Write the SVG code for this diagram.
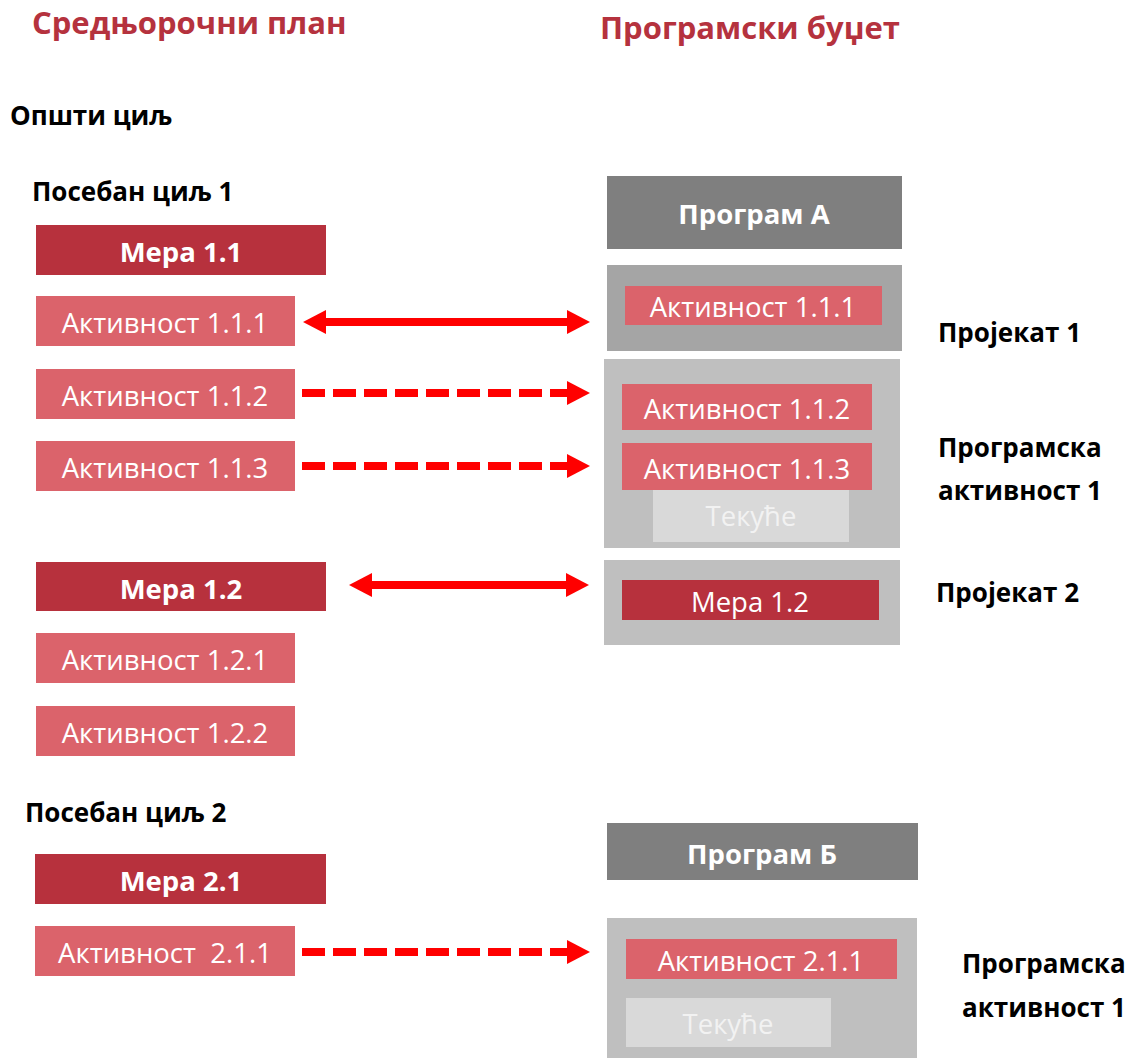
<svg xmlns="http://www.w3.org/2000/svg" width="1135" height="1058" viewBox="0 0 1135 1058">
<style>
  text { font-family: "Open Sans", "Noto Sans", "Liberation Sans", sans-serif; }
  .title { font-size: 31px; font-weight: bold; fill: #b5323e; }
  .lbl { font-size: 26px; font-weight: bold; fill: #000; }
  .mera { fill: #b7313d; }
  .akt { fill: #db636b; }
  .prog { fill: #7f7f7f; }
  .grpA { fill: #a5a5a5; }
  .grp { fill: #bfbfbf; }
  .tek { fill: #d9d9d9; }
  .tw { font-size: 27.5px; fill: #fff; text-anchor: middle; }
  .tb { font-size: 27.5px; font-weight: bold; fill: #fff; text-anchor: middle; }
  .tt { font-size: 27.5px; fill: #f2f2f2; text-anchor: middle; }
  .conn { stroke: #ff0000; stroke-width: 8; fill: none; }
  .dash { stroke-dasharray: 23 8; }
</style>
<defs>
  <marker id="ah" viewBox="0 0 23 24" refX="0" refY="12" markerWidth="23" markerHeight="24" markerUnits="userSpaceOnUse" orient="auto-start-reverse">
    <path d="M0,0 L23,12 L0,24 z" fill="#ff0000"/>
  </marker>
</defs>
<rect width="1135" height="1058" fill="#fff"/>

<text class="title" x="32" y="34">Средњорочни план</text>
<text class="title" x="600" y="39">Програмски буџет</text>

<text class="lbl" x="10" y="125">Општи циљ</text>
<text class="lbl" x="32" y="201">Посебан циљ 1</text>
<text class="lbl" x="25" y="822">Посебан циљ 2</text>

<g id="mera11"><rect class="mera" x="36" y="225" width="290" height="50"/><text class="tb" x="181" y="262">Мера 1.1</text></g>
<g id="akt111"><rect class="akt" x="36" y="296" width="259" height="50"/><text class="tw" x="165" y="333">Активност 1.1.1</text></g>
<g id="akt112"><rect class="akt" x="36" y="369" width="259" height="50"/><text class="tw" x="165" y="406">Активност 1.1.2</text></g>
<g id="akt113"><rect class="akt" x="36" y="441" width="259" height="50"/><text class="tw" x="165" y="478">Активност 1.1.3</text></g>
<g id="mera12"><rect class="mera" x="36" y="562" width="290" height="49"/><text class="tb" x="181" y="599">Мера 1.2</text></g>
<g id="akt121"><rect class="akt" x="36" y="633" width="259" height="50"/><text class="tw" x="165" y="670">Активност 1.2.1</text></g>
<g id="akt122"><rect class="akt" x="36" y="706" width="259" height="50"/><text class="tw" x="165" y="743">Активност 1.2.2</text></g>
<g id="mera21"><rect class="mera" x="35" y="854" width="291" height="50"/><text class="tb" x="181" y="891">Мера 2.1</text></g>
<g id="akt211"><rect class="akt" x="35" y="926" width="260" height="50"/><text class="tw" x="165" y="963" xml:space="preserve">Активност  2.1.1</text></g>

<g id="programA"><rect class="prog" x="607" y="176" width="295" height="73"/><text class="tb" x="754" y="224">Програм А</text></g>
<g id="projekat1">
  <rect class="grpA" x="607" y="265" width="295" height="86"/>
  <rect class="akt" x="625" y="286" width="257" height="39"/><text class="tw" x="753" y="317">Активност 1.1.1</text>
</g>
<g id="progakt1">
  <rect class="grp" x="604" y="359" width="296" height="189"/>
  <rect class="akt" x="622" y="384" width="250" height="46"/><text class="tw" x="747" y="419">Активност 1.1.2</text>
  <rect class="tek" x="653" y="490" width="196" height="52"/><text class="tt" x="751" y="526">Текуће</text>
  <rect class="akt" x="622" y="443" width="250" height="47"/><text class="tw" x="747" y="479">Активност 1.1.3</text>
</g>
<g id="projekat2">
  <rect class="grp" x="604" y="560" width="296" height="85"/>
  <rect class="mera" x="622" y="580" width="257" height="40"/><text class="tw" x="750" y="612">Мера 1.2</text>
</g>
<g id="programB"><rect class="prog" x="607" y="823" width="311" height="57"/><text class="tb" x="762" y="864">Програм Б</text></g>
<g id="progakt2">
  <rect class="grp" x="607" y="918" width="310" height="140"/>
  <rect class="akt" x="626" y="939" width="271" height="40"/><text class="tw" x="761" y="971">Активност 2.1.1</text>
  <rect class="tek" x="626" y="998" width="205" height="49"/><text class="tt" x="728" y="1034">Текуће</text>
</g>

<text class="lbl" x="938" y="342">Пројекат 1</text>
<text class="lbl" x="938" y="457">Програмска</text>
<text class="lbl" x="938" y="500">активност 1</text>
<text class="lbl" x="936" y="602">Пројекат 2</text>
<text class="lbl" x="962" y="973">Програмска</text>
<text class="lbl" x="962" y="1017">активност 1</text>

<g id="connectors">
  <line class="conn" x1="326" y1="322" x2="567" y2="322" marker-start="url(#ah)" marker-end="url(#ah)"/>
  <line class="conn dash" x1="302" y1="393" x2="567" y2="393" marker-end="url(#ah)"/>
  <line class="conn dash" x1="302" y1="466" x2="567" y2="466" marker-end="url(#ah)"/>
  <line class="conn" x1="372" y1="585" x2="566" y2="585" stroke-width="7" marker-start="url(#ah)" marker-end="url(#ah)"/>
  <line class="conn dash" x1="302" y1="952" x2="567" y2="952" marker-end="url(#ah)"/>
</g>
</svg>
